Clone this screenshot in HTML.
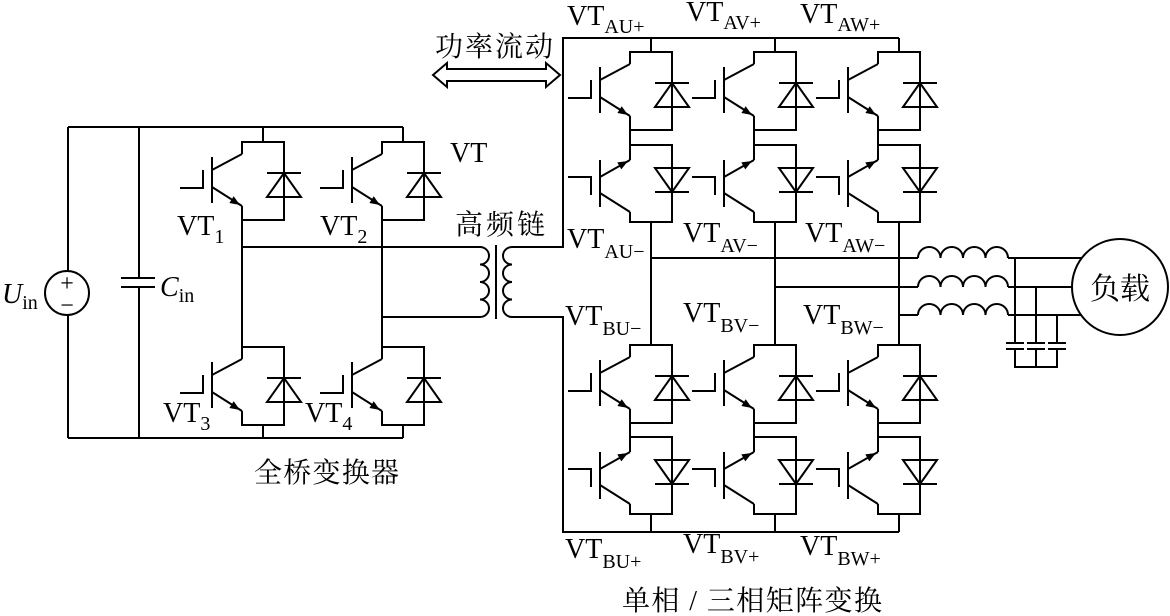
<!DOCTYPE html>
<html><head><meta charset="utf-8"><style>html,body{margin:0;padding:0;background:#fff}svg{display:block}</style></head>
<body>
<svg width="1170" height="616" viewBox="0 0 1170 616" xmlns="http://www.w3.org/2000/svg">
<defs>
<g id="swA" fill="none" stroke="#000" stroke-width="2">
<path d="M0,12 V0 H42 V78 H0 V64"/>
<path d="M0,12 L-30,28 M-30,15 V61 M-62,46 H-39 V28 M-30,45 L0,64"/>
<polygon points="-2,63 -12.6,61 -8.3,54.3" fill="#000" stroke="none"/>
<path d="M25,31 H59 M25,55 H59 L42,31 Z"/>
</g>
<g id="swB" fill="none" stroke="#000" stroke-width="2">
<path d="M0,15 V0 H42 V77 H0 V67"/>
<path d="M-30,32 L0,15 M-30,48 L0,67 M-30,15 V62 M-62,32 H-39 V50"/>
<polygon points="-2,16 -8.7,24.4 -12.7,17.4" fill="#000" stroke="none"/>
<path d="M25,23 H59 L42,47 Z M25,47 H59"/>
</g>
</defs>

<g fill="none" stroke="#000" stroke-width="2">
<path d="M68,127 H403 M68,438 H403 M68,127 V271 M68,315 V438 M139,127 V278 M139,287 V438"/>
<path d="M121,278 H155 M121,287 H155"/>
<circle cx="67" cy="293" r="22"/>
<path d="M263,127 V142 M403,127 V142 M263,425 V438 M403,425 V438"/>
<path d="M242,219 V347 M382,219 V347"/>
<path d="M242,247 H480 M382,317 H480"/>
<path d="M480,247 a9,8.75 0 0 1 0,17.5 a9,8.75 0 0 1 0,17.5 a9,8.75 0 0 1 0,17.5 a9,8.75 0 0 1 0,17.5"/>
<path d="M496,245 V319"/>
<path d="M512,247 a9,8.75 0 0 0 0,17.5 a9,8.75 0 0 0 0,17.5 a9,8.75 0 0 0 0,17.5 a9,8.75 0 0 0 0,17.5"/>
<path d="M512,247 H563 V38 H899 M512,317 H563 V532 H899"/>
<path d="M651,38 V52 M775,38 V52 M899,38 V52"/>
<path d="M651,222 V345 M775,222 V345 M899,222 V345"/>
<path d="M651,515 V532 M775,515 V532 M899,515 V532"/>
<path d="M630,130 V145 M754,130 V145 M878,130 V145 M630,423 V437 M754,423 V437 M878,423 V437"/>
<path d="M651,258 H918 M775,287 H918 M899,315 H918"/>
<path d="M918,258 a11.25,11 0 0 1 22.5,0 a11.25,11 0 0 1 22.5,0 a11.25,11 0 0 1 22.5,0 a11.25,11 0 0 1 22.5,0"/>
<path d="M918,287 a11.25,11 0 0 1 22.5,0 a11.25,11 0 0 1 22.5,0 a11.25,11 0 0 1 22.5,0 a11.25,11 0 0 1 22.5,0"/>
<path d="M918,315 a11.25,11 0 0 1 22.5,0 a11.25,11 0 0 1 22.5,0 a11.25,11 0 0 1 22.5,0 a11.25,11 0 0 1 22.5,0"/>
<path d="M1008,258 H1082 M1008,287 H1072 M1008,315 H1081"/>
<path d="M1015,258 V343 M1036,287 V343 M1057,315 V343 M1015,349 V367 H1057 V349 M1036,349 V367"/>
<path d="M1006,343 H1024 M1006,349 H1024 M1027,343 H1045 M1027,349 H1045 M1048,343 H1066 M1048,349 H1066"/>
<circle cx="1120" cy="287" r="48"/>
<polygon points="433,75 447,63 447,69 546,69 546,63 560,75 546,87 546,81 447,81 447,87"/>
</g>

<use href="#swA" x="242" y="142"/>
<use href="#swA" x="382" y="142"/>
<use href="#swA" x="242" y="347"/>
<use href="#swA" x="382" y="347"/>

<use href="#swA" x="630" y="52"/><use href="#swB" x="630" y="145"/>
<use href="#swA" x="754" y="52"/><use href="#swB" x="754" y="145"/>
<use href="#swA" x="878" y="52"/><use href="#swB" x="878" y="145"/>
<use href="#swA" x="630" y="345"/><use href="#swB" x="630" y="437"/>
<use href="#swA" x="754" y="345"/><use href="#swB" x="754" y="437"/>
<use href="#swA" x="878" y="345"/><use href="#swB" x="878" y="437"/>

<g font-family="Liberation Serif, serif" font-size="28" fill="#000">
<text x="567" y="25">VT<tspan font-size="20" dy="8">AU+</tspan></text>
<text x="686" y="21">VT<tspan font-size="20" dy="8">AV+</tspan></text>
<text x="800" y="23">VT<tspan font-size="20" dy="8">AW+</tspan></text>
<text x="450" y="162">VT</text>
<text x="177" y="235">VT<tspan font-size="20" dy="8">1</tspan></text>
<text x="320" y="235">VT<tspan font-size="20" dy="8">2</tspan></text>
<text x="163" y="422">VT<tspan font-size="20" dy="8">3</tspan></text>
<text x="305" y="422">VT<tspan font-size="20" dy="8">4</tspan></text>
<text x="567" y="248">VT<tspan font-size="20" dy="10">AU−</tspan></text>
<text x="683" y="242">VT<tspan font-size="20" dy="10">AV−</tspan></text>
<text x="805" y="242">VT<tspan font-size="20" dy="10">AW−</tspan></text>
<text x="565" y="325">VT<tspan font-size="20" dy="10">BU−</tspan></text>
<text x="683" y="322">VT<tspan font-size="20" dy="10">BV−</tspan></text>
<text x="803" y="324">VT<tspan font-size="20" dy="10">BW−</tspan></text>
<text x="565" y="558">VT<tspan font-size="20" dy="10">BU+</tspan></text>
<text x="683" y="553">VT<tspan font-size="20" dy="10">BV+</tspan></text>
<text x="800" y="555">VT<tspan font-size="20" dy="10">BW+</tspan></text>
<text x="2" y="303"><tspan font-style="italic">U</tspan><tspan font-size="20" dy="6">in</tspan></text>
<text x="160" y="296"><tspan font-style="italic">C</tspan><tspan font-size="20" dy="6">in</tspan></text>
<text x="67" y="291" font-size="24" text-anchor="middle">+</text>
<text x="67" y="313" font-size="24" text-anchor="middle">−</text>
</g>
<g font-family="Liberation Serif, 'Noto Serif CJK SC', serif" font-size="28" fill="#000">
<text x="435" y="56" textLength="118">功率流动</text>
<text x="455" y="234" textLength="90">高频链</text>
<text x="254" y="482" textLength="145">全桥变换器</text>
<text x="622" y="610" textLength="260">单相 / 三相矩阵变换</text>
<text x="1120" y="299" text-anchor="middle" font-size="30">负载</text>
</g>
</svg>
</body></html>
